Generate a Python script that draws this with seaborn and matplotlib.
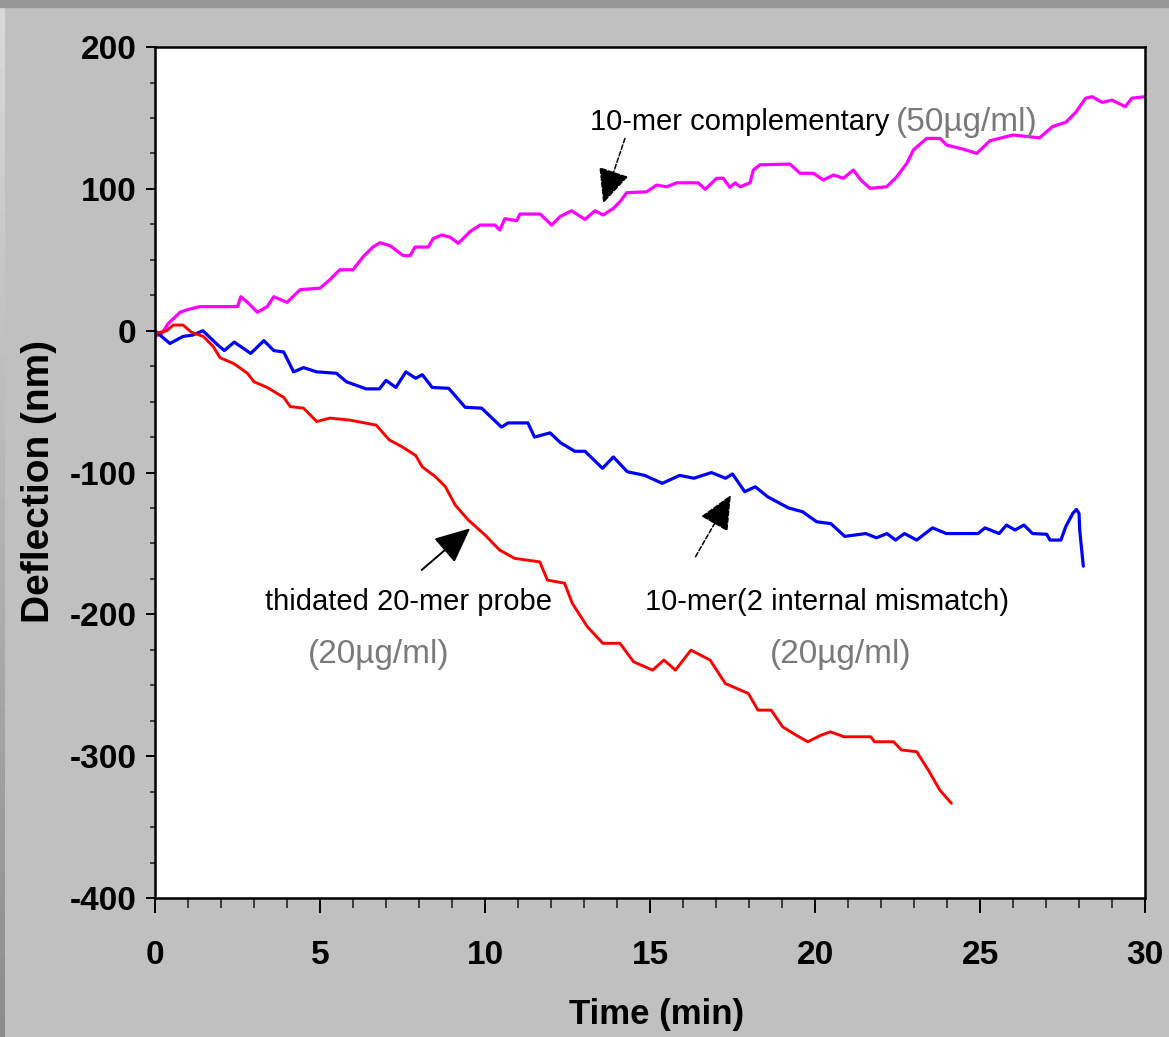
import numpy as np
import pandas as pd
import matplotlib
matplotlib.use("Agg")
import matplotlib.pyplot as plt
import seaborn as sns
from matplotlib import font_manager
from matplotlib.patches import Rectangle
from matplotlib.ticker import MultipleLocator

# ------------------------------
# Data
# ------------------------------
# 10-mer complementary (50 ug/ml), magenta
t_comp = [0.0, 0.2, 0.4, 0.76, 1.0, 1.36, 2.0, 2.5, 2.6, 2.85, 3.1, 3.4, 3.6, 4.0, 4.4, 5.0,
          5.3, 5.6, 6.0, 6.3, 6.6, 6.82, 7.12, 7.52, 7.73, 7.88, 8.28, 8.43, 8.69, 8.94, 9.19,
          9.55, 9.85, 10.3, 10.45, 10.6, 10.96, 11.06, 11.67, 12.02, 12.27, 12.62, 13.03, 13.33,
          13.58, 13.89, 14.09, 14.29, 14.9, 15.2, 15.5, 15.81, 16.46, 16.67, 17.02, 17.22, 17.42,
          17.58, 17.73, 18.03, 18.13, 18.33, 19.24, 19.55, 19.95, 20.25, 20.56, 20.86, 21.16,
          21.4, 21.67, 22.17, 22.48, 22.78, 22.98, 23.38, 23.79, 23.99, 24.5, 24.9, 25.3, 26.0,
          26.8, 27.2, 27.6, 27.9, 28.2, 28.4, 28.7, 29.0, 29.4, 29.6, 30.0]
d_comp = [-4, -2, 5, 13, 15, 17, 17, 17, 24, 19, 13, 17, 24, 20, 29, 30,
          36, 43, 43, 52, 59, 62, 60, 53, 53, 59, 59, 65, 67.5, 66, 61.6,
          70, 74.5, 74.5, 71, 79, 77.6, 82.3, 82.3, 74.5, 80.4, 84.6, 78.5, 84.6,
          81.6, 86.3, 91, 97.3, 98, 102.7, 101.5, 104.3, 104.3, 99.7, 107.5, 107.5, 101.1,
          104.3, 101.5, 104.3, 113.3, 117, 117.5, 111, 111, 106.3, 109.8, 107.5, 113.3,
          106, 100.4, 101.5, 108.6, 118, 127.4, 135.6, 135.6, 130.9, 128, 125, 134, 138,
          136, 144, 147, 154, 164, 165, 161, 162.6, 158, 164, 165]

# 10-mer with 2 internal mismatches (20 ug/ml), blue
t_mis = [0, 0.45, 0.85, 1.15, 1.45, 1.9, 2.1, 2.4, 2.9, 3.3, 3.6, 3.9, 4.2, 4.5, 4.9, 5.5,
         5.8, 6.4, 6.8, 7.0, 7.3, 7.6, 7.9, 8.1, 8.4, 8.9, 9.4, 9.9, 10.5, 10.7, 11.3, 11.5,
         11.97, 12.29, 12.72, 13.03, 13.56, 13.89, 14.31, 14.84, 15.37, 15.9, 16.33, 16.86,
         17.29, 17.5, 17.87, 18.19, 18.56, 19.2, 19.62, 20.05, 20.48, 20.9, 21.54, 21.86,
         22.18, 22.44, 22.71, 23.08, 23.56, 23.98, 24.94, 25.15, 25.58, 25.8, 26.06, 26.33,
         26.59, 27.02, 27.12, 27.45, 27.6, 27.81, 27.92, 28.0, 28.02, 28.13]
d_mis = [0, -9, -4, -3, 0, -10, -14, -8, -16, -7, -14, -15, -29, -26, -29, -30,
         -36, -41, -41, -35, -40, -29, -33.5, -31, -40, -40.6, -54, -54.6, -68, -65, -65, -75,
         -72, -79, -85, -85, -97, -89, -99.4, -102, -107.6, -102, -104, -100,
         -104, -101, -113.5, -110, -117, -125, -127.6, -134.7, -136, -145, -143, -146,
         -143, -147.6, -143, -147.6, -139, -143, -143, -139, -143, -137, -140.5, -137,
         -143, -143.5, -147.6, -147.6, -138, -128.8, -126, -128.8, -140.5, -166]

# thiolated 20-mer probe (20 ug/ml), red
t_probe = [0, 0.35, 0.55, 0.85, 1.1, 1.46, 1.76, 1.97, 2.37, 2.5, 2.8, 3.0, 3.4, 3.9, 4.1, 4.5,
           4.9, 5.3, 5.9, 6.7, 7.1, 7.5, 7.9, 8.1, 8.5, 8.8, 9.1, 9.5, 10.0, 10.44, 10.9,
           11.66, 11.89, 12.41, 12.64, 13.1, 13.57, 14.09, 14.5, 15.08, 15.42, 15.77, 16.24,
           16.82, 17.28, 17.98, 18.27, 18.67, 19.02, 19.43, 19.78, 20.18, 20.47, 20.88, 21.69,
           21.8, 22.38, 22.62, 23.08, 23.43, 23.78, 24.13]
d_probe = [-2, 0, 4, 4, -1, -4, -11, -19, -23, -25, -30, -36, -40, -47, -53.5, -54.6,
           -64, -61.6, -63, -66.5, -77, -82, -88, -96, -103, -110, -123, -133.6, -144, -154.6, -160.5,
           -163, -175.8, -178, -192, -208.7, -220.4, -220.4, -233.4, -239.3, -232.2, -239.3, -225.2,
           -232.2, -248.7, -255.8, -267.5, -267.5, -279.3, -285.2, -289.8, -285.2, -282.8, -286.3, -286.3,
           -289.8, -289.8, -295.6, -296.8, -309.7, -323.8, -333.2]

x_ticks = [0, 5, 10, 15, 20, 25, 30]
y_ticks = [-400, -300, -200, -100, 0, 100, 200]

# ------------------------------
# Style
# ------------------------------
sns.set_theme(style="ticks")


def pick_font(name, fallback):
    try:
        font_manager.findfont(font_manager.FontProperties(family=name), fallback_to_default=False)
        return name
    except ValueError:
        return fallback


narrow = pick_font("Liberation Sans Narrow", "Liberation Sans")
plt.rcParams["font.family"] = [narrow, "DejaVu Sans"]
plt.rcParams["axes.unicode_minus"] = False

fig = plt.figure(figsize=(11.69, 10.37), dpi=100, facecolor="#c0c0c0")
ax = fig.add_axes([0.1326, 0.1340, 0.8469, 0.8206])
ax.set_facecolor("white")

# dark frame strips of the original screenshot
fig.patches.append(Rectangle((0, 1 - 7 / 1037), 1, 7 / 1037, transform=fig.transFigure,
                             color="#989898", zorder=0))
strip = fig.add_axes([0, 0, 5 / 1169, 1 - 7 / 1037])
strip.imshow(np.linspace(0.85, 0.55, 50).reshape(-1, 1), cmap="gray", vmin=0, vmax=1, aspect="auto")
strip.axis("off")

# ------------------------------
# Curves
# ------------------------------
sns.lineplot(x=t_comp, y=d_comp, ax=ax, color="#ff00ff", lw=2.3, estimator=None, sort=False)
sns.lineplot(x=t_mis, y=d_mis, ax=ax, color="#0000ff", lw=2.3, estimator=None, sort=False)
sns.lineplot(x=t_probe, y=d_probe, ax=ax, color="#ff0000", lw=2.1, estimator=None, sort=False)

ax.set_xlim(0, 30)
ax.set_ylim(-400, 200)
ax.set_xticks(x_ticks)
ax.set_yticks(y_ticks)
ax.xaxis.set_minor_locator(MultipleLocator(1))
ax.yaxis.set_minor_locator(MultipleLocator(25))

ax.tick_params(axis="x", which="major", direction="out", length=11, width=1.4, pad=19,
               labelsize=24, colors="black")
ax.tick_params(axis="x", which="minor", direction="out", length=7.5, width=1.2)
ax.tick_params(axis="y", which="major", direction="out", length=6.5, width=1.4, pad=7,
               labelsize=24, colors="black")
ax.tick_params(axis="y", which="minor", direction="out", length=3.6, width=1.2)
for lbl in ax.get_xticklabels() + ax.get_yticklabels():
    lbl.set_fontweight("bold")

for side in ["left", "right", "top", "bottom"]:
    ax.spines[side].set_visible(True)
    ax.spines[side].set_color("black")
    ax.spines[side].set_linewidth(1.8)

ax.set_xlabel("Time (min)", fontsize=25, fontweight="bold", color="black")
ax.set_ylabel("Deflection (nm)", fontsize=28, fontweight="bold", color="black")
ax.xaxis.set_label_coords(0.507, -0.117)
ax.yaxis.set_label_coords(-0.099, 0.49)

# ------------------------------
# Annotations
# ------------------------------
txt_kw = dict(fontsize=21, color="black", ha="left", va="baseline")
gray_kw = dict(fontsize=24, color="#7a7a7a", ha="left", va="baseline", family=["Liberation Sans", "DejaVu Sans"])

ax.text(13.18, 141.5, "10-mer complementary", **txt_kw)
ax.text(22.45, 140.8, "(50µg/ml)", **gray_kw)
ax.text(3.33, -197, "thidated 20-mer probe", **txt_kw)
ax.text(4.64, -234.4, "(20µg/ml)", **gray_kw)
ax.text(14.85, -197, "10-mer(2 internal mismatch)", **txt_kw)
ax.text(18.64, -234.4, "(20µg/ml)", **gray_kw)

head = "-|>,head_length=1.1,head_width=0.5"
ax.annotate("", xy=(13.58, 89.8), xytext=(14.24, 135.6),
            arrowprops=dict(arrowstyle=head, color="black", lw=1.1, ls=(0, (3, 1.5)),
                            mutation_scale=20, shrinkA=0, shrinkB=0))
ax.annotate("", xy=(9.55, -139.3), xytext=(8.08, -168.7),
            arrowprops=dict(arrowstyle=head, color="black", lw=1.4,
                            mutation_scale=20, shrinkA=0, shrinkB=0))
ax.annotate("", xy=(17.45, -115.8), xytext=(16.38, -159.3),
            arrowprops=dict(arrowstyle=head, color="black", lw=1.1, ls=(0, (3, 1.5)),
                            mutation_scale=20, shrinkA=0, shrinkB=0))

fig.savefig("out.png", dpi=100, facecolor=fig.get_facecolor())
